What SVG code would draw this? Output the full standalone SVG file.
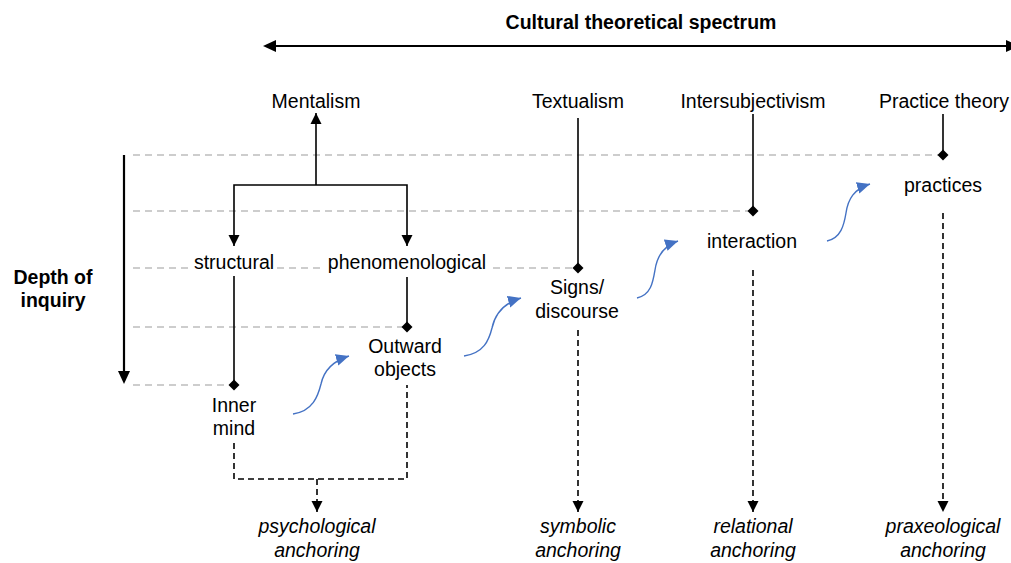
<svg xmlns="http://www.w3.org/2000/svg" width="1011" height="563" viewBox="0 0 1011 563">
<style>
text{font-family:"Liberation Sans",Arial,sans-serif;font-size:19.5px;fill:#000;text-anchor:middle}
.b{font-weight:bold}
.i{font-style:italic}
.solid{stroke:#000;stroke-width:1.6;fill:none}
.thick{stroke:#000;stroke-width:2.2;fill:none}
.grid{stroke:#bdbdbd;stroke-width:1.5;stroke-dasharray:7 5;fill:none}
.dash{stroke:#000;stroke-width:1.6;stroke-dasharray:6 4;fill:none}
.blue{stroke:#4472C4;stroke-width:1.4;fill:none}
.bg{fill:#fff}
</style>
<defs>
<marker id="ah" markerWidth="12" markerHeight="12" refX="11" refY="6" orient="auto" markerUnits="userSpaceOnUse"><path d="M0,0.5 L11,6 L0,11.5 Z" fill="#000"/></marker>
<marker id="ahb" markerWidth="14" markerHeight="14" refX="13" refY="6" orient="auto" markerUnits="userSpaceOnUse"><path d="M0,0 L13,6 L0,12 Z" fill="#4472C4"/></marker>
<marker id="dm" markerWidth="12" markerHeight="12" refX="6" refY="6" orient="0" markerUnits="userSpaceOnUse"><path d="M6,0.5 L11.5,6 L6,11.5 L0.5,6 Z" fill="#000"/></marker>
</defs>
<g id="connectors">
<g id="gridlines">
<line class="grid" x1="133" y1="155" x2="943" y2="155"/>
<line class="grid" x1="133" y1="211" x2="753" y2="211"/>
<line class="grid" x1="133" y1="268" x2="578" y2="268"/>
<line class="grid" x1="133" y1="327" x2="407" y2="327"/>
<line class="grid" x1="133" y1="385" x2="234" y2="385"/>
</g>
<line class="thick" x1="270" y1="46" x2="1006" y2="46"/>
<path d="M263,46 L276,40 L276,52 Z" fill="#000"/>
<path d="M1019,46 L1006,40 L1006,52 Z" fill="#000"/>
<line class="thick" x1="124" y1="155" x2="124" y2="374" />
<path d="M124,384 L118,371 L130,371 Z" fill="#000"/>
<line class="solid" x1="316" y1="185" x2="316" y2="113" marker-end="url(#ah)"/>
<path class="solid" d="M316,185 H234 V246" marker-end="url(#ah)"/>
<path class="solid" d="M316,185 H407 V246" marker-end="url(#ah)"/>
<line class="solid" x1="234" y1="276" x2="234" y2="385" marker-end="url(#dm)"/>
<line class="solid" x1="407" y1="277" x2="407" y2="327" marker-end="url(#dm)"/>
<line class="solid" x1="578" y1="118" x2="578" y2="268" marker-end="url(#dm)"/>
<line class="solid" x1="753" y1="114" x2="753" y2="211" marker-end="url(#dm)"/>
<line class="solid" x1="943" y1="114" x2="943" y2="155" marker-end="url(#dm)"/>
<path class="dash" d="M234,443 V479 H407 V385"/>
<line class="dash" x1="317" y1="479" x2="317" y2="512" marker-end="url(#ah)"/>
<line class="dash" x1="578" y1="330" x2="578" y2="512" marker-end="url(#ah)"/>
<line class="dash" x1="753" y1="270" x2="753" y2="512" marker-end="url(#ah)"/>
<line class="dash" x1="943" y1="213" x2="943" y2="512" marker-end="url(#ah)"/>
<path class="blue" d="M293,414 C313,411 318,396 321,384 C324,370 333,361 349,356" marker-end="url(#ahb)"/>
<path class="blue" d="M464,356 C484,353 489,340 492,328 C495,314 504,303 521,298" marker-end="url(#ahb)"/>
<path class="blue" d="M637,298 C651,295 653,282 655,270 C657,256 663,246 678,241" marker-end="url(#ahb)"/>
<path class="blue" d="M827,241 C841,238 844,225 846,213 C848,199 854,189 870,184" marker-end="url(#ahb)"/>
</g>
<g id="title"><text class="b" x="641" y="29">Cultural theoretical spectrum</text></g>
<g id="depth"><text class="b" x="53" y="284">Depth of</text><text class="b" x="53" y="307">inquiry</text></g>
<g id="mentalism"><text x="316" y="108">Mentalism</text></g>
<g id="textualism"><text x="578" y="108">Textualism</text></g>
<g id="intersubjectivism"><text x="753" y="108">Intersubjectivism</text></g>
<g id="practice-theory"><text x="944" y="108">Practice theory</text></g>
<g id="structural"><rect class="bg" x="192" y="253" width="84" height="20"/><text x="234" y="269">structural</text></g>
<g id="phenomenological"><rect class="bg" x="325" y="253" width="164" height="20"/><text x="407" y="269">phenomenological</text></g>
<g id="inner-mind"><text x="234" y="412">Inner</text><text x="234" y="435">mind</text></g>
<g id="outward-objects"><text x="405" y="353">Outward</text><text x="405" y="376">objects</text></g>
<g id="signs-discourse"><text x="577" y="294">Signs/</text><text x="577" y="318">discourse</text></g>
<g id="interaction"><text x="752" y="248">interaction</text></g>
<g id="practices"><text x="943" y="192">practices</text></g>
<g id="psychological"><text class="i" x="317" y="533">psychological</text><text class="i" x="317" y="557">anchoring</text></g>
<g id="symbolic"><text class="i" x="578" y="533">symbolic</text><text class="i" x="578" y="557">anchoring</text></g>
<g id="relational"><text class="i" x="753" y="533">relational</text><text class="i" x="753" y="557">anchoring</text></g>
<g id="praxeological"><text class="i" x="943" y="533">praxeological</text><text class="i" x="943" y="557">anchoring</text></g>
</svg>
